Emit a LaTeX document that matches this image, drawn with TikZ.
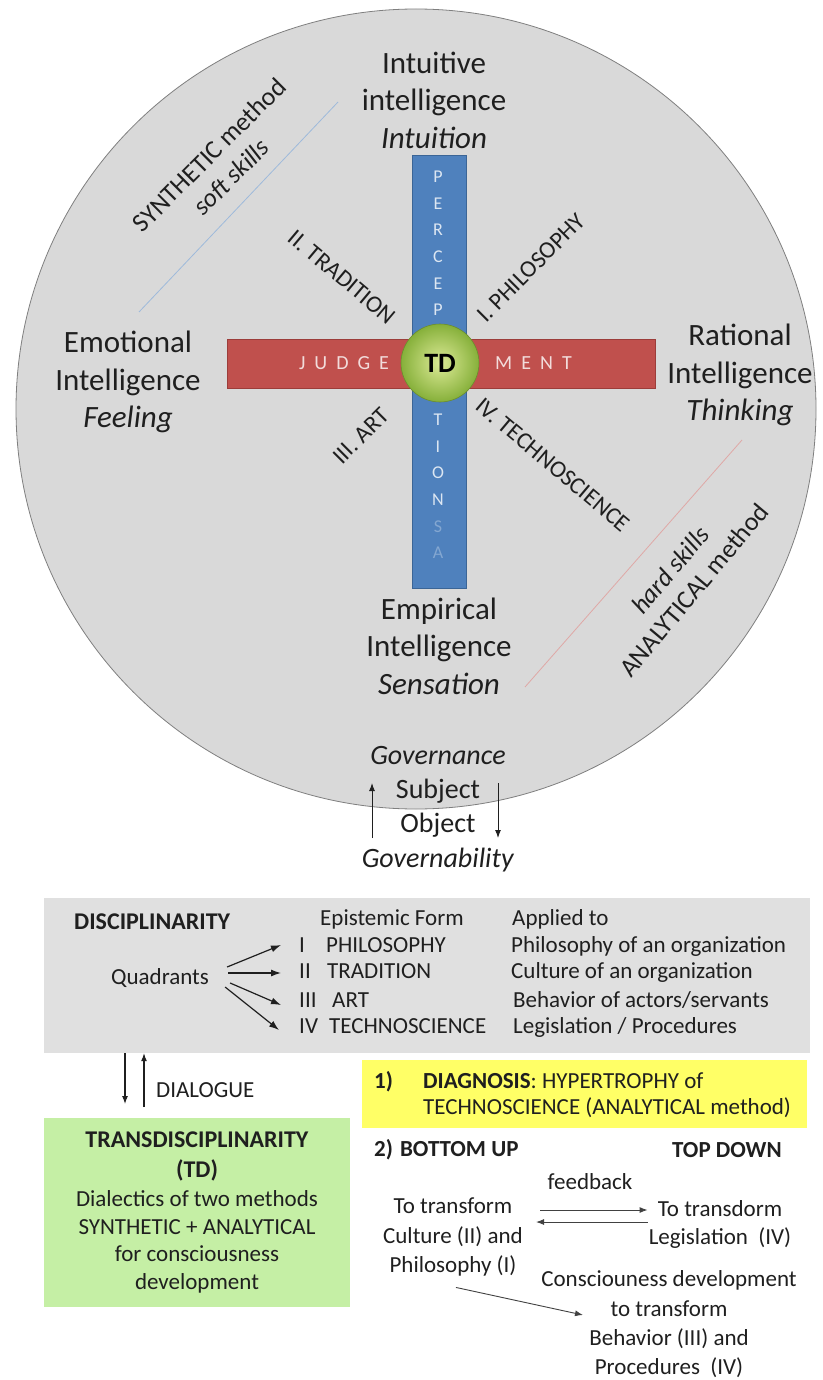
\documentclass[tikz,border=0pt]{standalone}
\usepackage{fontspec}
\setmainfont{Carlito}
\usepackage{tikz}
\usetikzlibrary{arrows.meta}
\usetikzlibrary{calc}
\usetikzlibrary{positioning}
\definecolor{td-grey}{HTML}{D9D9D9}
\definecolor{td-rim}{HTML}{7F7F7F}
\definecolor{td-blue}{HTML}{4F81BD}
\definecolor{td-blue-dark}{HTML}{3B6596}
\definecolor{td-red}{HTML}{C0504D}
\definecolor{td-red-dark}{HTML}{9C3D3A}
\definecolor{td-lime-light}{HTML}{DCEA96}
\definecolor{td-lime}{HTML}{86B03A}
\definecolor{td-box}{HTML}{E0E0E0}
\definecolor{td-yellow}{HTML}{FFFF66}
\definecolor{td-mint}{HTML}{C5EFA5}
\definecolor{td-ink}{HTML}{1F1F1F}
\definecolor{td-letter}{HTML}{DCE6F2}
\definecolor{td-letter-red}{HTML}{F2DCDB}

\begin{document}
\begin{tikzpicture}[x=1pt, y=-1pt,
    intel/.style={font=\fontsize{31}{37.5}\selectfont, align=center, text=td-ink, inner sep=0pt},
    quadrant/.style={font=\fontsize{24}{28}\selectfont, text=td-ink, inner sep=0pt},
    method/.style={font=\fontsize{26}{31}\selectfont, align=center, text=td-ink, inner sep=0pt},
    govern/.style={font=\fontsize{28}{34.3}\selectfont, align=center, text=td-ink, inner sep=0pt},
    lowtext/.style={font=\fontsize{23}{28}\selectfont, text=td-ink, inner sep=0pt},
    rowtext/.style={lowtext, anchor=west, text height=16pt, text depth=5pt},
    arrowline/.style={line width=1.1pt, color=td-ink, -{Latex[length=8pt, width=6pt]}}]

    % frame
    \useasboundingbox (0,0) rectangle (822,1380);

    % disc
    \draw[draw=td-rim, fill=td-grey, line width=0.8pt] (416,409) circle (400);

    % method dividers
    \draw[color=td-blue!55, line width=0.8pt] (139,312) -- (338,102);
    \draw[color=td-red!50, line width=0.8pt] (742,440) -- (525,687);

    % cross
    \node[fill=td-blue, draw=td-blue-dark, line width=0.8pt, minimum width=54pt, minimum height=433pt] (perc) at (439,371.5) {};
    \node[fill=td-red, draw=td-red-dark, line width=0.8pt, minimum width=428pt, minimum height=49pt] (judge) at (441,363.5) {};

    % letters on the bars
    \begin{scope}[every node/.style={font=\fontsize{18}{26.6}\selectfont, align=center, inner sep=0pt}]
        \node[text=td-letter] (percup) at (438,243.5) {P\\E\\R\\C\\E\\P};
        \node[text=td-letter] (percdown) at (438,486.5) {T\\I\\O\\N\\\textcolor{td-blue!70!white}{S}\\\textcolor{td-blue!70!white}{A}};
        \node[text=td-letter-red, font=\fontsize{20}{24}\selectfont] (judgeleft) at (344,363) {J\hspace{9pt}U\hspace{9pt}D\hspace{9pt}G\hspace{9pt}E};
        \node[text=td-letter-red, font=\fontsize{20}{24}\selectfont] (judgeright) at (533.5,363) {M\hspace{9pt}E\hspace{9pt}N\hspace{9pt}T};
    \end{scope}

    % centre
    \node[circle, minimum size=78pt, inner sep=0pt, shading=radial, inner color=td-lime-light, outer color=td-lime,
          draw=td-lime!80!black, line width=0.6pt, font=\bfseries\fontsize{28}{28}\selectfont, text=black] (td) at (440,363) {TD};

    % intelligences
    \node[intel] (intuitive) at (434,100) {Intuitive\\intelligence\\\textit{Intuition}};
    \node[intel] (emotional) at (128,382) {Emotional\\Intelligence\\\textit{Feeling}};
    \node[intel] (rational) at (740,375) {Rational\\Intelligence\\\textit{Thinking}};
    \node[intel] (empirical) at (439,646) {Empirical\\Intelligence\\\textit{Sensation}};

    % quadrants
    \node[quadrant, rotate=45] (philo) at (531,268) {I. PHILOSOPHY};
    \node[quadrant, rotate=-40] (tradi) at (342,277) {II. TRADITION};
    \node[quadrant, rotate=45] (art) at (361,436) {III. ART};
    \node[quadrant, rotate=-40] (techno) at (553,465) {IV. TECHNOSCIENCE};

    % methods
    \node[method, rotate=45] (synth) at (220,166) {SYNTHETIC method\\\textit{soft skills}};
    \node[method, rotate=50] (analy) at (682,580) {\textit{hard skills}\\ANALYTICAL method};

    % governance
    \node[govern] (gov) at (438,809) {\textit{Governance}\\Subject\\Object\\\textit{Governability}};
    \coordinate (govup) at (372,783);
    \coordinate (govdown) at (498,838);
    \draw[arrowline, line width=1pt] (govup |- govdown) -- (govup);
    \draw[arrowline, line width=1pt] (govdown |- govup) -- (govdown);

    % disciplinarity
    \node[fill=td-box, minimum width=766pt, minimum height=155pt] (disc) at (427,975.5) {};
    \node[lowtext, anchor=west, font=\bfseries\fontsize{24}{28}\selectfont] (disctitle) at (74,922) {DISCIPLINARITY};
    \node[lowtext] (quad) at (160,978) {Quadrants};
    \node[rowtext] (epist) at (320,920) {Epistemic Form};
    \node[rowtext] (applied) at (512,920) {Applied to};

    \node[rowtext] (nI) at (299,947) {I};
    \node[rowtext] (nII) at (299,973) {II};
    \node[rowtext] (nIII) at (299,1002) {III};
    \node[rowtext] (nIV) at (299,1028) {IV};

    \node[rowtext] (wI) at (326,947) {PHILOSOPHY};
    \node[rowtext] (wII) at (327,973) {TRADITION};
    \node[rowtext] (wIII) at (332,1002) {ART};
    \node[rowtext] (wIV) at (329,1028) {TECHNOSCIENCE};

    \node[rowtext] (aI) at (511,947) {Philosophy of an organization};
    \node[rowtext] (aII) at (511,973) {Culture of an organization};
    \node[rowtext] (aIII) at (513,1002) {Behavior of actors/servants};
    \node[rowtext] (aIV) at (513,1028) {Legislation / Procedures};

    \begin{scope}[every edge/.style={draw, line width=1.2pt, color=td-ink, -{Latex[length=10pt, width=7pt]}}]
        \path ([shift={(18pt,11pt)}]quad.east) edge ([shift={(-18pt,2pt)}]nI.west);
        \path ([shift={(19pt,5pt)}]quad.east) edge ([shift={(-18pt,0pt)}]nII.west);
        \path ([shift={(21pt,-5pt)}]quad.east) edge ([shift={(-18pt,-3pt)}]nIII.west);
        \path ([shift={(16pt,-9pt)}]quad.east) edge ([shift={(-20pt,-2pt)}]nIV.west);
    \end{scope}

    % dialogue
    \coordinate (dlgdown) at (125,1104);
    \coordinate (dlgup) at (144,1107);
    \draw[arrowline] (disc.south -| dlgdown) -- (dlgdown);
    \draw[arrowline] (dlgup) -- (dlgup |- disc.south);
    \node[lowtext, anchor=west] (dialogue) at (156,1090) {DIALOGUE};

    % transdisciplinarity
    \node[fill=td-mint, minimum width=306pt, minimum height=189pt, align=center, inner sep=0pt,
          font=\fontsize{23}{27.5}\selectfont, text=td-ink] (trans) at (197,1212.5)
        {\textbf{\fontsize{24}{27.5}\selectfont TRANSDISCIPLINARITY}\\[2pt]
         \textbf{\fontsize{24}{27.5}\selectfont (TD)}\\[2pt]
         Dialectics of two methods\\
         SYNTHETIC + ANALYTICAL\\
         for consciousness\\
         development};

    % diagnosis
    \node[fill=td-yellow, minimum width=445pt, minimum height=68pt] (diag) at (584.5,1094) {};
    \node[lowtext, anchor=west, font=\bfseries\fontsize{23}{26}\selectfont] (diagnum) at (374,1082) {1)};
    \node[lowtext, anchor=west, align=left, font=\fontsize{23}{26}\selectfont] (diagtext) at (423,1095)
        {\textbf{DIAGNOSIS}: HYPERTROPHY of\\TECHNOSCIENCE (ANALYTICAL method)};

    % bottom up / top down
    \node[lowtext, anchor=west, font=\bfseries\fontsize{23}{28}\selectfont] (bottomup) at (374,1150) {2)\hspace{7pt}BOTTOM UP};
    \node[lowtext, anchor=west, font=\bfseries\fontsize{23}{28}\selectfont] (topdown) at (672,1150) {TOP DOWN};
    \node[lowtext] (feedback) at (590,1182) {feedback};

    \node[lowtext, align=center, font=\fontsize{23}{29.5}\selectfont] (culture) at (453,1237) {To transform\\Culture (II) and\\Philosophy (I)};
    \node[lowtext, align=center, font=\fontsize{23}{28}\selectfont] (legis) at (720,1224) {To transdorm\\Legislation\ \ (IV)};
    \node[lowtext, align=center, font=\fontsize{23}{29.3}\selectfont] (consc) at (669,1324.5) {Consciouness development\\to transform\\Behavior (III) and\\Procedures\ \ (IV)};

    \begin{scope}[every edge/.style={draw, line width=0.9pt, color=td-ink!85, -{Latex[length=8pt, width=6pt]}}]
        \path ([shift={(17pt,27pt)}]culture.east) edge ([shift={(-1pt,14pt)}]legis.west);
        \path ([shift={(-1pt,2pt)}]legis.west) edge ([shift={(13pt,15pt)}]culture.east);
        \path ([shift={(3pt,-11pt)}]culture.south) edge ([shift={(-86pt,9.5pt)}]consc.center);
    \end{scope}

\end{tikzpicture}
\end{document}
